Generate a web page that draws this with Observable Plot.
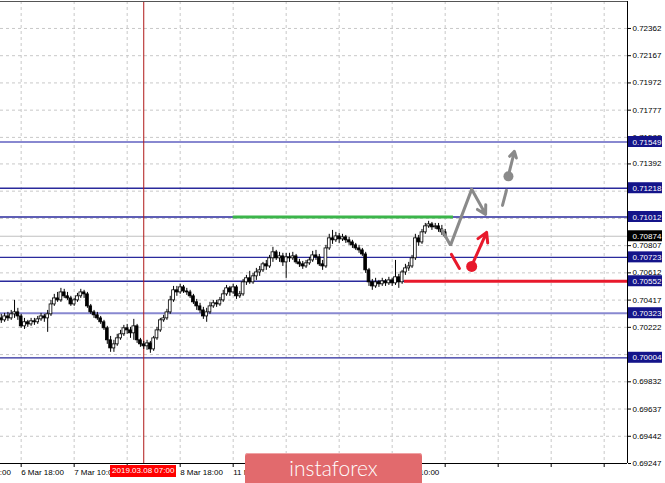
<!DOCTYPE html>
<html><head><meta charset="utf-8">
<script src="https://cdn.jsdelivr.net/npm/d3@7"></script>
<script src="https://cdn.jsdelivr.net/npm/@observablehq/plot@0.6"></script>
<style>
body{margin:0;background:#fff;}
#wrap{position:relative;width:665px;height:483px;overflow:hidden;background:#fff;}
#logo{position:absolute;left:245px;top:453px;width:177px;height:34px;background:#e26a6d;border-radius:3px;color:#fff;font:300 21px Lato, "Open Sans", sans-serif;text-align:center;line-height:29px;box-shadow:inset 0 1px 0 #f0a3a5;}
#tlabel{position:absolute;width:66px;height:12px;background:#ff0000;color:#fff;font:8px "Liberation Sans", Arial, sans-serif;text-align:center;line-height:12px;}
</style></head><body><div id="wrap"></div>
<script>
// Candles (price x 1e5), hourly bars, index 0..134
const opens = [70286,70272,70300,70286,70315,70329,70300,70229,70258,70243,
70265,70258,70279,70300,70286,70315,70386,70429,70415,70472,
70444,70429,70386,70415,70444,70472,70458,70372,70329,70308,
70286,70258,70215,70129,70071,70100,70143,70172,70215,70200,
70179,70229,70129,70100,70086,70107,70064,70143,70200,70272,
70286,70329,70415,70487,70472,70508,70479,70472,70444,70401,
70372,70343,70300,70329,70372,70394,70386,70415,70458,70501,
70472,70508,70444,70458,70544,70573,70544,70587,70615,70630,
70673,70658,70716,70759,70716,70730,70687,70723,70716,70730,
70687,70673,70658,70680,70701,70737,70723,70673,70658,70787,
70859,70845,70873,70852,70866,70845,70830,70809,70787,70773,
70744,70630,70544,70515,70544,70530,70551,70537,70558,70537,
70580,70544,70615,70644,70658,70716,70859,70830,70902,70945,
70959,70938,70945,70923,70902];
const highs = [70315,70322,70329,70343,70415,70358,70315,70286,70272,70286,
70286,70300,70322,70315,70343,70415,70458,70472,70501,70494,
70472,70444,70429,70465,70494,70487,70472,70386,70343,70329,
70300,70272,70229,70157,70129,70172,70200,70236,70243,70222,
70279,70243,70143,70121,70129,70121,70157,70222,70286,70308,
70351,70444,70515,70515,70530,70522,70501,70487,70458,70422,
70394,70365,70358,70401,70415,70415,70436,70487,70522,70515,
70530,70522,70479,70565,70594,70623,70608,70644,70658,70687,
70701,70737,70795,70773,70759,70752,70752,70752,70759,70744,
70709,70694,70701,70723,70766,70773,70744,70701,70809,70888,
70916,70902,70895,70888,70880,70866,70845,70823,70809,70787,
70759,70644,70565,70573,70558,70573,70565,70580,70573,70701,
70601,70630,70673,70687,70737,70888,70880,70923,70966,70981,
70973,70966,70966,70952,70923];
const lows = [70250,70258,70265,70272,70286,70272,70215,70207,70222,70229,
70236,70243,70265,70258,70186,70300,70372,70401,70401,70429,
70415,70372,70372,70401,70429,70429,70358,70315,70286,70272,
70243,70200,70100,70043,70043,70086,70129,70157,70172,70143,
70129,70107,70079,70064,70057,70036,70050,70129,70186,70258,
70272,70315,70401,70444,70458,70465,70451,70429,70386,70343,
70322,70279,70258,70315,70358,70365,70372,70401,70444,70444,
70458,70422,70429,70444,70522,70530,70530,70558,70587,70615,
70630,70644,70687,70701,70687,70658,70573,70687,70701,70673,
70651,70637,70644,70666,70687,70701,70658,70630,70644,70773,
70816,70830,70823,70837,70823,70809,70787,70773,70752,70730,
70608,70515,70487,70501,70508,70515,70515,70522,70515,70522,
70501,70530,70594,70623,70644,70701,70802,70816,70888,70931,
70916,70923,70902,70880,70859];
const closes = [70272,70300,70286,70315,70329,70300,70229,70258,70243,70265,
70258,70279,70300,70286,70315,70386,70429,70415,70472,70444,
70429,70386,70415,70444,70472,70458,70372,70329,70308,70286,
70258,70215,70129,70071,70100,70143,70172,70215,70200,70179,
70229,70129,70100,70086,70107,70064,70143,70200,70272,70286,
70329,70415,70487,70472,70508,70479,70472,70444,70401,70372,
70343,70300,70329,70372,70394,70386,70415,70458,70501,70472,
70508,70444,70458,70544,70573,70544,70587,70615,70630,70673,
70658,70716,70759,70716,70730,70687,70723,70716,70730,70687,
70673,70658,70680,70701,70737,70723,70673,70658,70787,70859,
70845,70873,70852,70866,70845,70830,70809,70787,70773,70744,
70630,70544,70515,70544,70530,70551,70537,70558,70537,70580,
70544,70615,70644,70658,70716,70859,70830,70902,70945,70959,
70938,70945,70923,70902,70874];

// Axis ticks (labels fully hidden by boxes / logo / time marker in the reference are left blank)
const yTicks = [0.72362,0.72167,0.71972,0.71777,0.71582,0.71392,0.71197,0.71002,0.70807,0.70612,0.70417,0.70222,0.70027,0.69832,0.69637,0.69442,0.69247];
const yTickHidden = [0.71197,0.71002,0.70027];
const timeTickBars = [-10,6,22,38,54,70,86,102,118,134,150,166,182];
const timeTickLabels = ["6 Mar 02:00","6 Mar 18:00","7 Mar 10:00","","8 Mar 18:00","11 Mar 10:00","","","13 Mar 10:00","","","",""];

// Horizontal levels
const levelsDark = [0.71218, 0.71012, 0.70723, 0.70552, 0.70004];
const levelsLight = [0.71549, 0.70323];
const currentPrice = 0.70874;
const levelBoxes = [0.71549,0.71218,0.71012,0.70723,0.70552,0.70323,0.70004];

// Drawn annotations (bar index, price)
const greenLine = {price: 0.71012, from: 70, to: 136.5};
const redLine = {price: 0.70552, from: 121.7};
const crossBar = 43;
const crossLabel = "2019.03.08 07:00";
const grayPath = [{i:133.1,p:0.70916},{i:135.6,p:0.70809},{i:142.0,p:0.71210}];
const grayArrows = [{i1:142.0,p1:0.71210,i2:146.2,p2:0.71031},{i1:153.4,p1:0.71339,i2:154.9,p2:0.71482}];
const grayDash = [{i:151.3,p:0.71095},{i:152.5,p:0.71203}];
const grayDot = [{i:153.1,p:0.71303}];
const redDash = [{i:135.9,p:0.70744},{i:138.3,p:0.70644}];
const redDot = [{i:142.0,p:0.70658}];
const redArrows = [{i1:142.6,p1:0.70694,i2:146.5,p2:0.70902}];

const X_DOMAIN = [-0.24, 189.04];
const Y_DOMAIN = [0.69247, 0.72555];

const bars = opens.map((o,i)=>({i, o:o/1e5, h:highs[i]/1e5, l:lows[i]/1e5, c:closes[i]/1e5}));
const up = bars.filter(d=>d.c>=d.o), down = bars.filter(d=>d.c<d.o);
const fmt = d3.format(".5f");
const labelOf = new Map(timeTickBars.map((b,k)=>[b,timeTickLabels[k]]));
const boxW = 35/3.3125; // box width expressed in bar units
const halfH = 5.5/13965; // box half-height in price units

const navy = "#2a2a9c";
const chart = Plot.plot({
  width: 665, height: 483,
  marginTop: 1, marginBottom: 20, marginLeft: 0, marginRight: 38,
  style: {fontFamily: "'Liberation Sans', Arial, sans-serif", fontSize: "8px", background: "#fff", overflow: "visible"},
  x: {domain: X_DOMAIN, axis: null},
  y: {domain: Y_DOMAIN, axis: null},
  marks: [
    Plot.gridY(yTicks, {stroke: "#c8c8c8", strokeOpacity: 1, strokeDasharray: "3,3"}),
    Plot.gridX(timeTickBars, {stroke: "#c8c8c8", strokeOpacity: 1, strokeDasharray: "3,3"}),
    Plot.ruleY([currentPrice], {stroke: "#c0c0c0", strokeWidth: 1.2}),
    Plot.ruleY(levelsLight, {stroke: "#8888d0", strokeWidth: 2}),
    Plot.ruleY(levelsDark, {stroke: navy, strokeWidth: 1.3}),
    Plot.ruleY([greenLine.price], {x1: greenLine.from, x2: greenLine.to, stroke: "#3bb54a", strokeWidth: 3}),
    Plot.ruleY([redLine.price], {x1: redLine.from, x2: X_DOMAIN[1], stroke: "#e8192c", strokeWidth: 3}),
    Plot.ruleX([crossBar], {stroke: "#b01818", strokeWidth: 1}),
    Plot.ruleX(bars, {x: "i", y1: "l", y2: "h", stroke: "#000", strokeWidth: 1}),
    Plot.rect(up, {x1: d=>d.i-0.42, x2: d=>d.i+0.42, y1: "o", y2: "c", fill: "#fff", stroke: "#000", strokeWidth: 0.8}),
    Plot.rect(down, {x1: d=>d.i-0.42, x2: d=>d.i+0.42, y1: "o", y2: "c", fill: "#000", stroke: "#000", strokeWidth: 0.8}),
    Plot.line(grayPath, {x: "i", y: "p", stroke: "#8a8a8a", strokeWidth: 3, strokeLinejoin: "miter"}),
    Plot.arrow(grayArrows, {x1: "i1", y1: "p1", x2: "i2", y2: "p2", stroke: "#8a8a8a", strokeWidth: 3, headLength: 12}),
    Plot.line(grayDash, {x: "i", y: "p", stroke: "#8a8a8a", strokeWidth: 3}),
    Plot.dot(grayDot, {x: "i", y: "p", r: 5, fill: "#8a8a8a"}),
    Plot.line(redDash, {x: "i", y: "p", stroke: "#e8192c", strokeWidth: 3}),
    Plot.dot(redDot, {x: "i", y: "p", r: 5.5, fill: "#e8192c"}),
    Plot.arrow(redArrows, {x1: "i1", y1: "p1", x2: "i2", y2: "p2", stroke: "#e8192c", strokeWidth: 3, headLength: 12}),
    Plot.ruleY([Y_DOMAIN[0]], {stroke: "#000"}),
    Plot.ruleY([Y_DOMAIN[1]], {stroke: "#555", strokeWidth: 1}),
    Plot.ruleX([X_DOMAIN[1]], {stroke: "#000"}),
    Plot.axisY(yTicks, {anchor: "right", tickSize: 3, tickPadding: 2, tickFormat: d => yTickHidden.includes(d) ? "" : fmt(d), fontSize: 8, fill: "#000", stroke: "#000"}),
    Plot.axisX(timeTickBars, {anchor: "bottom", tickSize: 4, tickPadding: 2, tickFormat: b=>labelOf.get(b), textAnchor: "start", fontSize: 8, fill: "#000", stroke: "#000"}),
    Plot.rect(levelBoxes, {x1: X_DOMAIN[1]+0.3, x2: X_DOMAIN[1]+boxW, y1: d=>d-halfH, y2: d=>d+halfH, fill: "#14148a"}),
    Plot.text(levelBoxes, {x: X_DOMAIN[1], y: d=>d, text: d=>fmt(d), dx: 5, textAnchor: "start", fill: "#fff", fontSize: 8}),
    Plot.rect([currentPrice], {x1: X_DOMAIN[1]+0.3, x2: X_DOMAIN[1]+boxW, y1: d=>d-halfH, y2: d=>d+halfH, fill: "#000"}),
    Plot.text([currentPrice], {x: X_DOMAIN[1], y: d=>d, text: d=>fmt(d), dx: 5, textAnchor: "start", fill: "#fff", fontSize: 8})
  ]
});
const wrap = document.getElementById("wrap");
wrap.appendChild(chart);
const xs = chart.scale("x"), ys = chart.scale("y");
const tl = document.createElement("div");
tl.id = "tlabel"; tl.textContent = crossLabel;
tl.style.left = (xs.apply(crossBar) - 33) + "px";
tl.style.top = (ys.apply(Y_DOMAIN[0]) + 2) + "px";
wrap.appendChild(tl);
const logo = document.createElement("div");
logo.id = "logo"; logo.textContent = "instaforex";
wrap.appendChild(logo);
</script></body></html>
